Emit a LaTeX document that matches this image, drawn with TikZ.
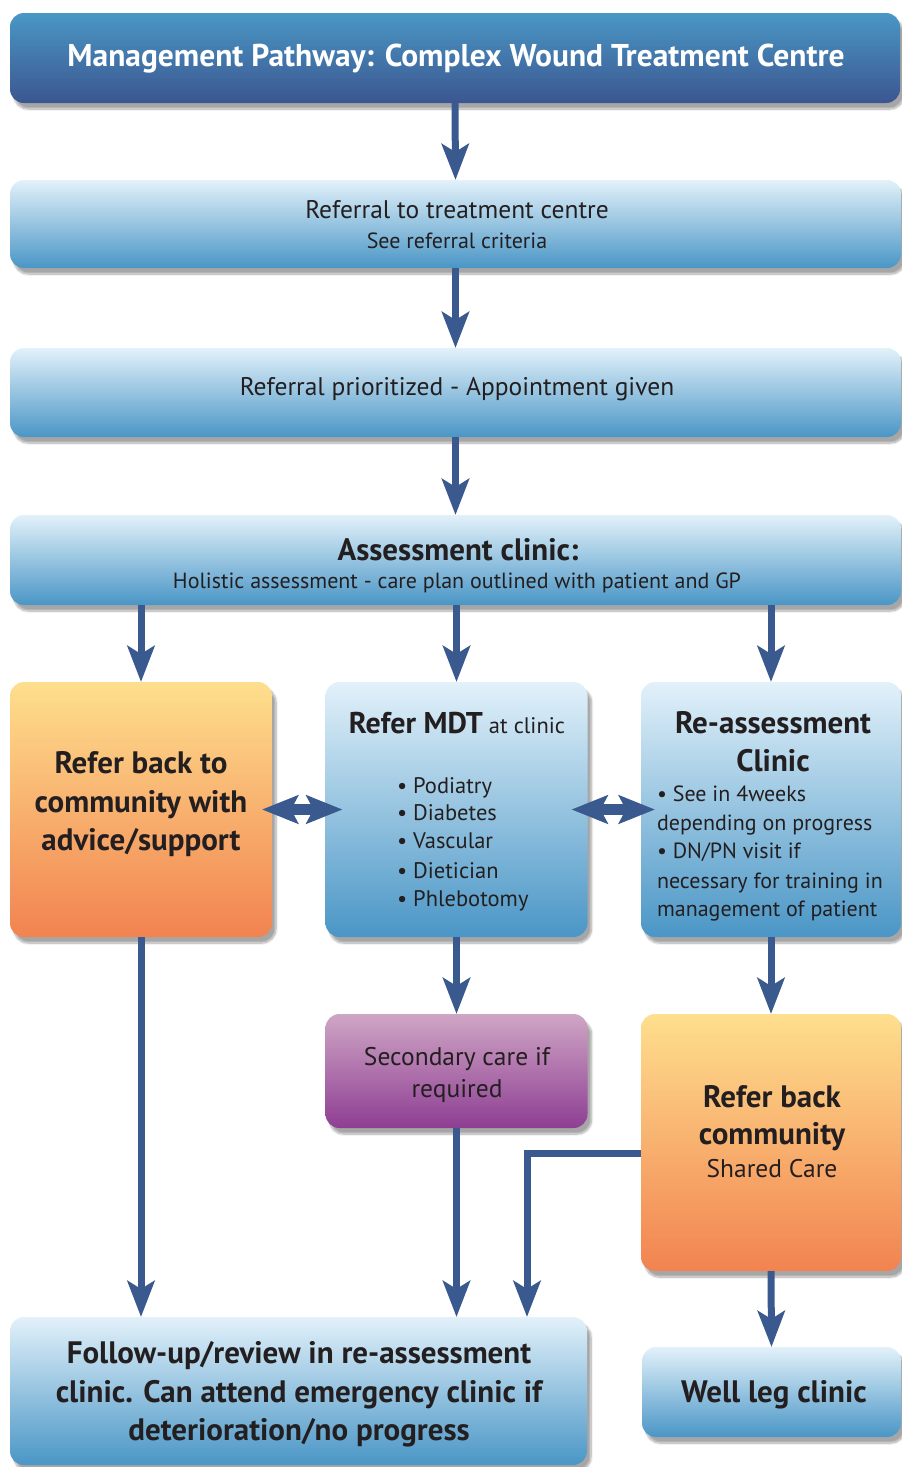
\documentclass[tikz,border=0pt]{standalone}
\usepackage{fontspec}
\setmainfont{PT Sans}
\usetikzlibrary{arrows.meta,shadows.blur,calc}
\definecolor{arrc}{HTML}{3A5A8F}
\definecolor{tc}{HTML}{231F20}
\definecolor{bt}{HTML}{E2F1FA}
\definecolor{bb}{HTML}{4A96C6}
\definecolor{tt}{HTML}{4A97C5}
\definecolor{tb}{HTML}{3B5690}
\definecolor{ot}{HTML}{FEDF8E}
\definecolor{ob}{HTML}{F28350}
\definecolor{pt}{HTML}{CFA6C5}
\definecolor{pb}{HTML}{8E3E93}
\tikzset{
  box/.style={rounded corners=14pt, inner sep=0pt, outer sep=0pt,
    blur shadow={shadow xshift=4pt, shadow yshift=-6pt, shadow blur steps=10, shadow opacity=35}},
  bluebox/.style={box, top color=bt, bottom color=bb},
  titlebox/.style={box, top color=tt, bottom color=tb},
  orangebox/.style={box, top color=ot, bottom color=ob},
  purplebox/.style={box, top color=pt, bottom color=pb},
  arr/.style={draw=arrc, line width=7pt, -{Stealth[length=36pt,width=27pt,inset=8pt]}},
  darr/.style={draw=arrc, line width=11pt, {Stealth[length=36pt,width=28pt,inset=7pt]}-{Stealth[length=36pt,width=28pt,inset=7pt]}},
  txt/.style={inner sep=0pt, outer sep=0pt, anchor=base, text=tc},
  txl/.style={txt, anchor=base west},
  big/.style={font=\fontsize{25.5}{30}\selectfont},
  reg/.style={font=\fontsize{22.5}{27}\selectfont},
  sml/.style={font=\fontsize{22}{26}\selectfont},
  bld/.style={font=\bfseries\fontsize{31}{36}\selectfont},
}
\begin{document}
\begin{tikzpicture}[x=1pt,y=-1pt]
\useasboundingbox (0,0) rectangle (902,1467);
% boxes
\node[titlebox, minimum width=890pt, minimum height=90pt] (title) at (455,58) {};
\node[bluebox, minimum width=891pt, minimum height=88pt] (b2) at (455.5,224) {};
\node[bluebox, minimum width=891pt, minimum height=89pt] (b3) at (455.5,392.5) {};
\node[bluebox, minimum width=891pt, minimum height=90pt] (b4) at (455.5,560) {};
\node[orangebox, minimum width=262pt, minimum height=255pt] (left) at (141,809.5) {};
\node[bluebox, minimum width=262pt, minimum height=255pt] (mdt) at (456.5,809.5) {};
\node[bluebox, minimum width=260pt, minimum height=255pt] (reas) at (771,809.5) {};
\node[purplebox, minimum width=262pt, minimum height=114pt] (sec) at (456.5,1071) {};
\node[orangebox, minimum width=260pt, minimum height=257pt] (rbc) at (771,1142.5) {};
\node[bluebox, minimum width=577pt, minimum height=148pt] (fu) at (298.5,1391) {};
\node[bluebox, minimum width=259pt, minimum height=90pt] (well) at (771.5,1392) {};
\coordinate (c527) at (527,0);
% arrows
\draw[arr] (title.south) -- (b2.north);
\draw[arr] (b2.south) -- (b3.north);
\draw[arr] (b3.south) -- (b4.north);
\draw[arr] (left.north |- b4.south) -- (left.north);
\draw[arr] (mdt.north |- b4.south) -- (mdt.north);
\draw[arr] (reas.north |- b4.south) -- (reas.north);
\draw[arr] (mdt.south) -- (sec.north);
\draw[arr] (reas.south) -- (rbc.north);
\draw[arr] (left.south) -- (left.south |- fu.north);
\draw[arr] (sec.south) -- (sec.south |- fu.north);
\draw[arr] ([yshift=-11pt]rbc.west) -| (c527 |- fu.north);
\draw[arr] (rbc.south) -- (well.north);
\draw[darr] ([xshift=-10pt]left.east) -- ([xshift=17pt]mdt.west);
\draw[darr] ([xshift=-16pt]mdt.east) -- ([xshift=14pt]reas.west);
% texts
\node[txt, text=white, font=\bfseries\fontsize{31.5}{36}\selectfont] (t1) at (456,66) {Management Pathway: Complex Wound Treatment Centre};
\node[txt, big] (t2a) at (457,218) {Referral to treatment centre};
\node[txt, sml] (t2b) at (457,248) {See referral criteria};
\node[txt, big] (t3) at (457,395) {Referral prioritized - Appointment given};
\node[txt, bld] (t4a) at (458,560) {Assessment clinic:};
\node[txt, sml] (t4b) at (457,588) {Holistic assessment - care plan outlined with patient and GP};
\node[txt, bld] (l1) at (141,773) {Refer back to};
\node[txt, bld] (l2) at (141,812) {community with};
\node[txt, bld] (l3) at (141,850) {advice/support};
\node[txt, reg] (m0) at (457,733) {{\bfseries\fontsize{30}{34}\selectfont Refer MDT} at clinic};
\node[txl, reg] (m1) at (397,793) {• Podiatry};
\node[txl, reg] (m2) at (397,820) {• Diabetes};
\node[txl, reg] (m3) at (397,848) {• Vascular};
\node[txl, reg] (m4) at (397,878) {• Dietician};
\node[txl, reg] (m5) at (397,906) {• Phlebotomy};
\node[txt, bld] (r1) at (773,733) {Re-assessment};
\node[txt, bld] (r2) at (773,771) {Clinic};
\node[txl, sml] (r3) at (657,801) {• See in 4weeks};
\node[txl, sml] (r4) at (657,830) {depending on progress};
\node[txl, sml] (r5) at (657,858) {• DN/PN visit if};
\node[txl, sml] (r6) at (657,888) {necessary for training in};
\node[txl, sml] (r7) at (657,916) {management of patient};
\node[txt, big] (s1) at (457,1065) {Secondary care if};
\node[txt, big] (s2) at (457,1097) {required};
\node[txt, bld] (c1) at (772,1107) {Refer back};
\node[txt, bld] (c2) at (772,1144) {community};
\node[txt, big] (c3) at (772,1177) {Shared Care};
\node[txt, bld] (f1) at (299,1363) {Follow-up/review in re-assessment};
\node[txt, bld] (f2) at (299,1402) {clinic. Can attend emergency clinic if};
\node[txt, bld] (f3) at (299,1440) {deterioration/no progress};
\node[txt, bld] (w1) at (774,1402) {Well leg clinic};
\end{tikzpicture}
\end{document}
